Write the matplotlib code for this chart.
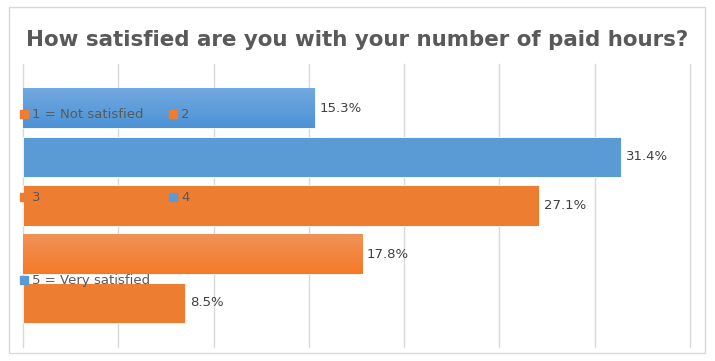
import numpy as np
import matplotlib.pyplot as plt
from matplotlib.lines import Line2D
from matplotlib.patches import Rectangle
from matplotlib.colors import LinearSegmentedColormap

# dane
categories = ['1 = Not satisfied', '2', '3', '4', '5 = Very satisfied']
values = [15.3, 31.4, 27.1, 17.8, 8.5]
bar_colors = ['#5B9BD5', '#5B9BD5', '#ED7D31', '#ED7D31', '#ED7D31']
legend_colors = ['#ED7D31', '#ED7D31', '#ED7D31', '#5B9BD5', '#5B9BD5']
value_labels = ['15.3%', '31.4%', '27.1%', '17.8%', '8.5%']

# gradienty dla dwóch słupków (góra -> dół)
gradients = {0: ('#72A9DF', '#4C93D6'), 3: ('#F19259', '#F47A28')}

fig = plt.figure(figsize=(7.15, 3.61), dpi=100)
ax = fig.add_axes([0.0322, 0.0388, 0.9329, 0.7839])

y = np.arange(len(values))
bars = ax.barh(y, values, height=0.83, color=bar_colors,
               edgecolor='white', linewidth=0.6, zorder=2)

for i, (c1, c2) in gradients.items():
    b = bars[i]
    grad = np.linspace(0, 1, 50).reshape(-1, 1)
    cmap = LinearSegmentedColormap.from_list('g', [c1, c2])
    x0, y0 = b.get_x(), b.get_y()
    w, h = b.get_width(), b.get_height()
    im = ax.imshow(grad, cmap=cmap, aspect='auto',
                   extent=[x0, x0 + w, y0 + h, y0], origin='upper', zorder=2.5)
    im.set_clip_path(b)

for i, v in enumerate(values):
    ax.text(v + 0.25, i, value_labels[i], va='center', ha='left',
            fontsize=9.5, color='#404040', zorder=4)

ax.set_xlim(0, 35)
ax.set_ylim(4.91, -0.91)
ax.set_xticks(np.arange(0, 36, 5))
ax.set_yticks([])
ax.tick_params(axis='x', length=0, labelbottom=False)
ax.grid(axis='x', color='#D9D9D9', linewidth=1, zorder=0)
for gl in ax.get_xgridlines():
    gl.set_clip_on(False)
ax.set_axisbelow(True)
for s in ax.spines.values():
    s.set_visible(False)

# legenda (wiersze: 1,2 / 3,4 / 5)
handles = [Line2D([], [], marker='s', linestyle='', color=c, markersize=6)
           for c in legend_colors]
order = [0, 2, 4, 1, 3]
leg = ax.legend([handles[i] for i in order], [categories[i] for i in order],
                ncol=2, loc='upper left', bbox_to_anchor=(-0.012, 0.862),
                frameon=False, fontsize=9.5, handlelength=0.6,
                handletextpad=0.3, columnspacing=1.45, labelspacing=5.3,
                borderaxespad=0)
for t in leg.get_texts():
    t.set_color('#595959')
leg.set_zorder(5)

fig.text(0.5, 0.89, 'How satisfied are you with your number of paid hours?',
         ha='center', va='center', fontsize=15.4, fontweight='bold',
         color='#595959')

fig.patches.append(Rectangle((9 / 715, 8 / 361), 696 / 715, 346 / 361,
                             transform=fig.transFigure, fill=False,
                             edgecolor='#D9D9D9', linewidth=1))

fig.savefig('out.png', dpi=100)
